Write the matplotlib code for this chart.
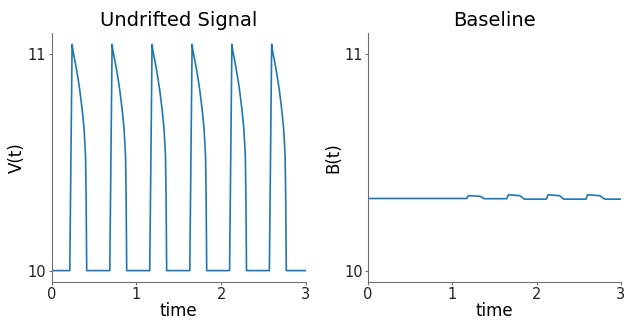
from matplotlib import pyplot as plt
import numpy as np

# spike onset times
ONSETS = [0.2125, 0.685, 1.157, 1.63, 2.10, 2.57]
# one spike, as (time after onset, value)
SPIKE_DT = [0.0, 0.0275, 0.04, 0.06, 0.079, 0.10, 0.119, 0.135, 0.15, 0.169, 0.186, 0.193, 0.20]
SPIKE_V = [10.0, 11.045, 11.01, 10.97, 10.93, 10.88, 10.83, 10.78, 10.73, 10.653, 10.53, 10.34, 10.0]

# baseline
BASE_T = [0.0, 1.17, 1.19, 1.33, 1.36, 1.38, 1.645, 1.665, 1.80, 1.83, 1.855,
          2.115, 2.135, 2.27, 2.30, 2.32, 2.585, 2.605, 2.75, 2.78, 2.81, 3.0]
BASE_V = [10.333, 10.333, 10.346, 10.343, 10.336, 10.332, 10.332, 10.350, 10.346, 10.337, 10.330,
          10.330, 10.350, 10.346, 10.337, 10.330, 10.330, 10.350, 10.346, 10.337, 10.330, 10.330]

T_END = 3.0

t = [0.0]
v = [10.0]
for t0 in ONSETS:
    t += [t0 + dt for dt in SPIKE_DT]
    v += SPIKE_V
t.append(T_END)
v.append(10.0)

fig = plt.figure(figsize=(6.24, 3.2), dpi=100)
ax1 = fig.add_axes([0.083, 0.119, 0.407, 0.778])
ax2 = fig.add_axes([0.590, 0.119, 0.405, 0.778], sharey=ax1)

ax1.plot(t, v, color='#1f77b4', lw=1.2)
ax2.plot(BASE_T, BASE_V, color='#1f77b4', lw=1.2)

for ax, title, ylab in [(ax1, 'Undrifted Signal', 'V(t)'), (ax2, 'Baseline', 'B(t)')]:
    ax.set_title(title, fontsize=14, pad=5)
    ax.set_xlabel('time', fontsize=12, labelpad=0)
    ax.set_ylabel(ylab, fontsize=12, labelpad=1)
    ax.set_xlim(0, 3)
    ax.set_xticks([0, 1, 2, 3])
    ax.set_yticks([10, 11])
    for s in ['top', 'right']:
        ax.spines[s].set_visible(False)
    for s in ['left', 'bottom']:
        ax.spines[s].set_color('#707070')
    ax.tick_params(colors='#707070', labelcolor='#222222', labelsize=10.5, length=2.5, pad=1.5)

ax2.tick_params(labelleft=True)

fig.savefig('out.png', dpi=100)
